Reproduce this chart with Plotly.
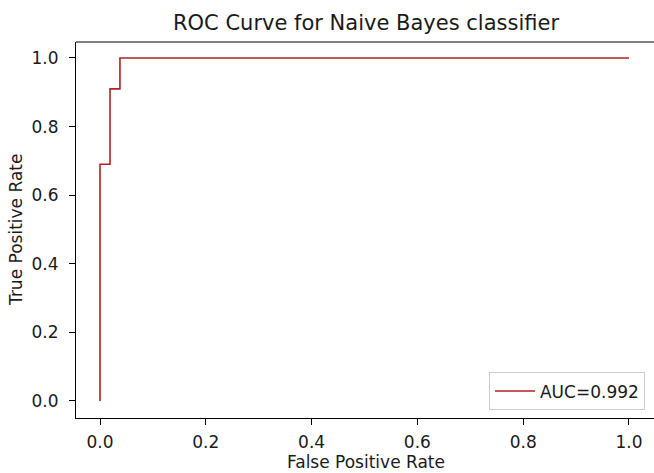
import plotly.graph_objects as go

# ROC operating points (false positive rate, true positive rate)
fpr = [0.0, 0.0, 0.0189, 0.0189, 0.0377, 0.0377, 1.0]
tpr = [0.0, 0.69, 0.69, 0.91, 0.91, 1.0, 1.0]
auc_value = 0.992

tick_vals = [0.0, 0.2, 0.4, 0.6, 0.8, 1.0]
tick_text = ["0.0", "0.2", "0.4", "0.6", "0.8", "1.0"]

font_family = "DejaVu Sans"
text_color = "#1a1a1a"
label_size = 17

fig = go.Figure()
fig.add_trace(go.Scatter(
    x=fpr, y=tpr, mode="lines",
    line=dict(color="#b22222", width=1.6),
    name=f"AUC={auc_value}",
    showlegend=True,
))

fig.update_layout(
    width=654, height=473,
    margin=dict(l=76, r=0, t=42, b=55),
    paper_bgcolor="white", plot_bgcolor="white",
    font=dict(family=font_family, size=label_size, color=text_color),
    title=dict(text="ROC Curve for Naive Bayes classifier",
               x=366 / 654, xanchor="center",
               y=1 - 23 / 473, yanchor="middle",
               font=dict(size=21, color=text_color)),
    legend=dict(x=0.9844, y=0.02, xanchor="right", yanchor="bottom",
                bgcolor="rgba(255,255,255,0.8)", bordercolor="#cccccc",
                borderwidth=1, font=dict(size=label_size),
                itemwidth=40, tracegroupgap=0),
    showlegend=True,
)

axis_style = dict(
    tickvals=tick_vals, ticktext=tick_text,
    showgrid=False, zeroline=False, automargin=False,
    showline=True, linecolor="black", linewidth=1.2,
    ticks="outside", ticklen=6, tickcolor="black", tickwidth=1.2,
    tickfont=dict(size=label_size),
)
fig.update_xaxes(range=[-0.0454, 1.0473], ticklabelstandoff=2, **axis_style)
fig.update_yaxes(range=[-0.0496, 1.0466], ticklabelstandoff=7, **axis_style)

# axis titles
fig.add_annotation(text="False Positive Rate", xref="paper", yref="paper",
                   x=0.5017, y=-0.117, xanchor="center", yanchor="middle",
                   showarrow=False, font=dict(size=label_size))
fig.add_annotation(text="True Positive Rate", xref="paper", yref="paper",
                   x=-0.1038, y=0.5, xanchor="center", yanchor="middle",
                   textangle=-90, showarrow=False, font=dict(size=label_size))

# top spine of the axes frame
fig.add_shape(type="line", xref="paper", yref="paper",
              x0=0, x1=1, y0=1, y1=1,
              line=dict(color="black", width=1.2))

fig.write_html("out.html")
